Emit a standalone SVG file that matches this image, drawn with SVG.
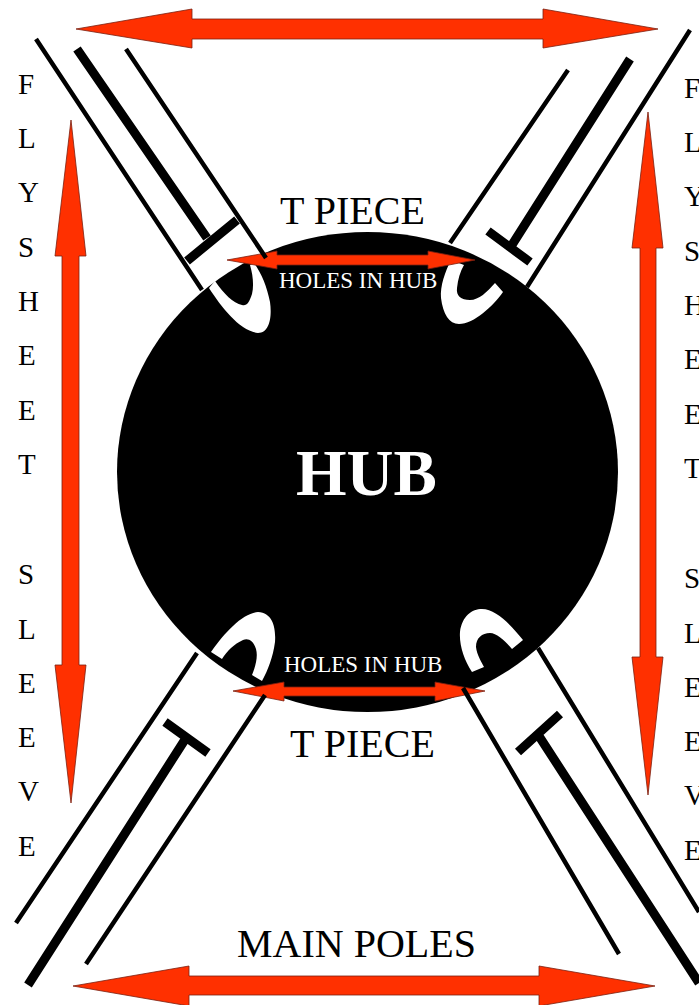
<svg xmlns="http://www.w3.org/2000/svg" width="699" height="1005" viewBox="0 0 699 1005">
<style>
.t{font-family:"Liberation Serif","Times New Roman",serif;fill:#000}
.w{font-family:"Liberation Serif","Times New Roman",serif;fill:#fff}
.l{font-size:29px}
.p{font-size:40px}
.h{font-size:23px}
.a{fill:#ff3000;stroke:#7a2010;stroke-width:.8}
.s{stroke:#000;stroke-width:4.5;fill:none}
.k{stroke:#000;stroke-width:9;fill:none}
.o{fill:#fff}
</style>
<rect width="699" height="1005" fill="#fff"/>
<g id="hub">
<ellipse cx="367.5" cy="472" rx="250.5" ry="240" fill="#000"/>
<text class="w" x="296" y="495" font-size="65" font-weight="bold">HUB</text>
</g>
<g id="holes">
<path class="o" d="M209 288C222 308 240 331 258 333C270 333 272 316 270 302C267 287 262 274 254 263L250 265C253 275 254 286 252 294C249 303 247 306 242 305C233 303 224 294 215 281Z"/>
<path class="o" d="M451 260C445 272 440 286 441 298C443 314 449 324 459 324C474 324 493 306 503 292L495 283C487 292 479 300 470 300C461 300 456 296 457 288C458 279 460 272 464 265Z"/>
<path class="o" d="M211 652C225 632 243 613 258 612C273 613 276 628 275 642C273 657 268 670 262 681L252 675C256 665 258 656 256 649C253 640 248 638 243 640C234 644 227 651 222 659Z"/>
<path class="o" d="M472 672C464 660 459 645 460 632C462 616 472 609 482 609C496 609 511 625 523 640L512 649C505 641 497 633 490 633C482 633 476 638 476 647C477 655 481 661 484 667Z"/>
</g>
<g id="labels">
<g id="t-piece-top"><text class="t p" x="280" y="224">T PIECE</text></g>
<g id="t-piece-bottom"><text class="t p" x="290" y="757">T PIECE</text></g>
<g id="main-poles"><text class="t p" x="237" y="957">MAIN POLES</text></g>
<g id="holes-top"><text class="w h" x="279" y="288">HOLES IN HUB</text></g>
<g id="holes-bottom"><text class="w h" x="284" y="672">HOLES IN HUB</text></g>
</g>
<g id="left-text" class="t l">
<text x="18" y="94">F</text><text x="18" y="148">L</text><text x="18" y="202">Y</text><text x="18" y="257">S</text><text x="18" y="311">H</text><text x="18" y="365">E</text><text x="18" y="420">E</text><text x="18" y="474">T</text><text x="18" y="584">S</text><text x="18" y="639">L</text><text x="18" y="693">E</text><text x="18" y="747">E</text><text x="18" y="801">V</text><text x="18" y="856">E</text>
</g>
<g id="right-text" class="t l">
<text x="684" y="98">F</text><text x="684" y="152">L</text><text x="684" y="206">Y</text><text x="684" y="261">S</text><text x="684" y="315">H</text><text x="684" y="369">E</text><text x="684" y="424">E</text><text x="684" y="478">T</text><text x="684" y="588">S</text><text x="684" y="643">L</text><text x="684" y="697">E</text><text x="684" y="751">E</text><text x="684" y="805">V</text><text x="684" y="860">E</text>
</g>
<g id="connectors">
<path class="a" d="M76 29L192 9V19H543V9L658 29L543 48V39H192V48Z"/>
<path class="a" d="M73 986L189 966V976H539V966L655 986L539 1006V995H189V1006Z"/>
<path class="a" d="M71 120L86 256H79V665H86L71 803L55 665H62V256H55Z"/>
<path class="a" d="M648 112L663 248H656V657H663L648 795L632 657H640V248H632Z"/>
<path class="a" d="M227 260L277 251V255H428V251L475 260L428 269V265H277V269Z"/>
<path class="a" d="M233 691L284 682V687H435V682L485 691L435 701V696H284V701Z"/>
<path class="s" d="M36 39L202 290M126 49L266 258"/>
<path class="k" d="M77 49L207 238M187 261L237 220"/>
<path class="s" d="M690 30L527 287M568 70L450 243"/>
<path class="k" d="M630 59L510 248M488 231L530 262"/>
<path class="s" d="M16 923L197 653M86 964L265 695"/>
<path class="k" d="M28 985L186 738M165 722L208 753"/>
<path class="s" d="M699 912L538 648M619 954L463 688"/>
<path class="k" d="M699 983L537 733M518 752L560 714"/>
</g>
</svg>
